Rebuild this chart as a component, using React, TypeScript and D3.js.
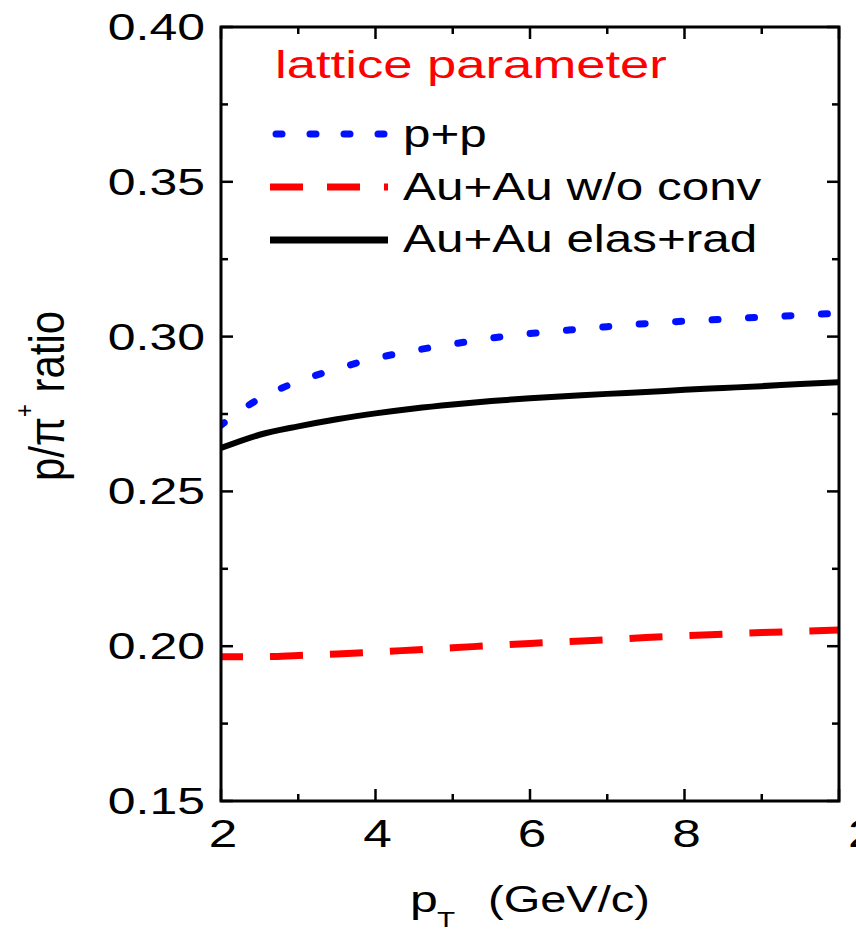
import React from "react";
import * as d3 from "d3";

const pT = [2, 2.5, 3, 3.5, 4, 4.5, 5, 5.5, 6, 6.5, 7, 7.5, 8, 8.5, 9, 9.5, 10];
const ppRatio = [0.2714, 0.28, 0.2855, 0.2896, 0.293, 0.2955, 0.2976, 0.2995, 0.301, 0.3021, 0.3032, 0.3042, 0.305, 0.3056, 0.3063, 0.3069, 0.3076];
const auauNoConv = [0.1966, 0.1966, 0.197, 0.1975, 0.1981, 0.1988, 0.1995, 0.2002, 0.2009, 0.2015, 0.2021, 0.2028, 0.2034, 0.2039, 0.2044, 0.2048, 0.2052];
const auauElasRad = [0.264, 0.2683, 0.271, 0.2733, 0.2752, 0.2768, 0.2781, 0.2792, 0.2801, 0.2808, 0.2815, 0.2821, 0.2828, 0.2834, 0.284, 0.2847, 0.2853];

const xMajorTicks = [2, 4, 6, 8, 10];
const xTickLabels = ["2", "4", "6", "8", ""];
const xMinorTicks = [3, 5, 7, 9];
const yMajorTicks = [0.15, 0.2, 0.25, 0.3, 0.35, 0.4];
const yTickLabels = ["0.15", "0.20", "0.25", "0.30", "0.35", "0.40"];
const yMinorTicks = [0.175, 0.225, 0.275, 0.325, 0.375];

const seriesNames = ["p+p", "Au+Au w/o conv", "Au+Au elas+rad"];
const titleText = "lattice parameter";

const FONT = "'Liberation Sans', Arial, Helvetica, sans-serif";
const SX = 1.35;

const L = 221, R = 839, T = 27, B = 801;

function SText(props: { x: number; y: number; size: number; anchor?: string; fill?: string; sx?: number; children: any }) {
  const { x, y, size, anchor = "start", fill = "#000", sx = SX, children } = props;
  return (
    <text
      transform={`translate(${x},${y}) scale(${sx},1)`}
      fontFamily={FONT}
      fontSize={size}
      textAnchor={anchor}
      fill={fill}
    >
      {children}
    </text>
  );
}

export default function App() {
  const x = d3.scaleLinear().domain([2, 10]).range([L, R]);
  const y = d3.scaleLinear().domain([0.15, 0.4]).range([B, T]);

  const mk = (vals: number[]) =>
    d3
      .line<number>()
      .x((_, i) => x(pT[i]))
      .y((v) => y(v))
      .curve(d3.curveMonotoneX)(vals) as string;

  const major = 12;
  const minor = 7;
  const tickW = 2.5;

  return (
    <svg
      width={856}
      height={933}
      style={{ position: "absolute", left: 0, top: 0, background: "#fff" }}
    >
      <defs>
        <clipPath id="plotclip">
          <rect x={L} y={T} width={R - L} height={B - T} />
        </clipPath>
      </defs>
      <rect x={0} y={0} width={856} height={933} fill="#fff" />

      {/* curves */}
      <g clipPath="url(#plotclip)" fill="none">
        <path d={mk(auauNoConv)} stroke="#ff0000" strokeWidth={7} strokeDasharray="33 27" strokeDashoffset={11} />
        <path d={mk(auauElasRad)} stroke="#000" strokeWidth={6} />
        <path
          d={mk(ppRatio)}
          stroke="#0010ff"
          strokeWidth={7}
          strokeLinecap="round"
          strokeDasharray="6 30.5"
          strokeDashoffset={2}
        />
      </g>

      {/* frame */}
      <rect x={L} y={T} width={R - L} height={B - T} fill="none" stroke="#000" strokeWidth={3} />

      {/* ticks */}
      <g stroke="#000" strokeWidth={tickW}>
        {xMajorTicks.map((t) => (
          <g key={"xM" + t}>
            <line x1={x(t)} x2={x(t)} y1={B} y2={B - major} />
            <line x1={x(t)} x2={x(t)} y1={T} y2={T + major} />
          </g>
        ))}
        {xMinorTicks.map((t) => (
          <g key={"xm" + t}>
            <line x1={x(t)} x2={x(t)} y1={B} y2={B - minor} />
            <line x1={x(t)} x2={x(t)} y1={T} y2={T + minor} />
          </g>
        ))}
        {yMajorTicks.map((t) => (
          <g key={"yM" + t}>
            <line x1={L} x2={L + major} y1={y(t)} y2={y(t)} />
            <line x1={R} x2={R - major} y1={y(t)} y2={y(t)} />
          </g>
        ))}
        {yMinorTicks.map((t) => (
          <g key={"ym" + t}>
            <line x1={L} x2={L + minor} y1={y(t)} y2={y(t)} />
            <line x1={R} x2={R - minor} y1={y(t)} y2={y(t)} />
          </g>
        ))}
      </g>

      {/* tick labels */}
      {yMajorTicks.map((t, i) => (
        <SText key={"yl" + t} x={205} y={y(t) + 13} size={37} anchor="end">
          {yTickLabels[i]}
        </SText>
      ))}
      {xMajorTicks.map((t, i) =>
        xTickLabels[i] ? (
          <SText key={"xl" + t} x={x(t) + 2} y={847} size={38} anchor="middle">
            {xTickLabels[i]}
          </SText>
        ) : null
      )}
      {/* neighbouring panel's first tick label, cut by the page edge */}
      <SText x={848} y={847} size={38}>
        2
      </SText>

      {/* axis titles */}
      <SText x={410} y={912} size={37}>p</SText>
      <SText x={437} y={927} size={22}>T</SText>
      <SText x={488} y={912} size={37} sx={1.27}>(GeV/c)</SText>

      <text
        transform="translate(64,396) scale(1.2,1) rotate(-90)"
        fontFamily={FONT}
        fontSize={42}
        textAnchor="middle"
        fill="#000"
      >
        <tspan>p/π</tspan>
        <tspan fontSize={22} dy={-26}>+</tspan>
        <tspan dy={26}> ratio</tspan>
      </text>

      {/* title */}
      <SText x={275} y={78} size={38} fill="#ff0000" sx={1.385}>
        {titleText}
      </SText>

      {/* legend */}
      <g fill="none">
        <line x1={273} x2={388} y1={134} y2={134} stroke="#0010ff" strokeWidth={7} strokeLinecap="round" strokeDasharray="6 28" strokeDashoffset={-3} />
        <line x1={270} x2={388} y1={187} y2={187} stroke="#ff0000" strokeWidth={7} strokeDasharray="33 24" />
        <line x1={270} x2={388} y1={240} y2={240} stroke="#000" strokeWidth={7} />
      </g>
      <SText x={403} y={147} size={38} sx={1.3}>{seriesNames[0]}</SText>
      <SText x={403} y={200} size={38} sx={1.3}>{seriesNames[1]}</SText>
      <SText x={403} y={252} size={38} sx={1.3}>{seriesNames[2]}</SText>
    </svg>
  );
}
